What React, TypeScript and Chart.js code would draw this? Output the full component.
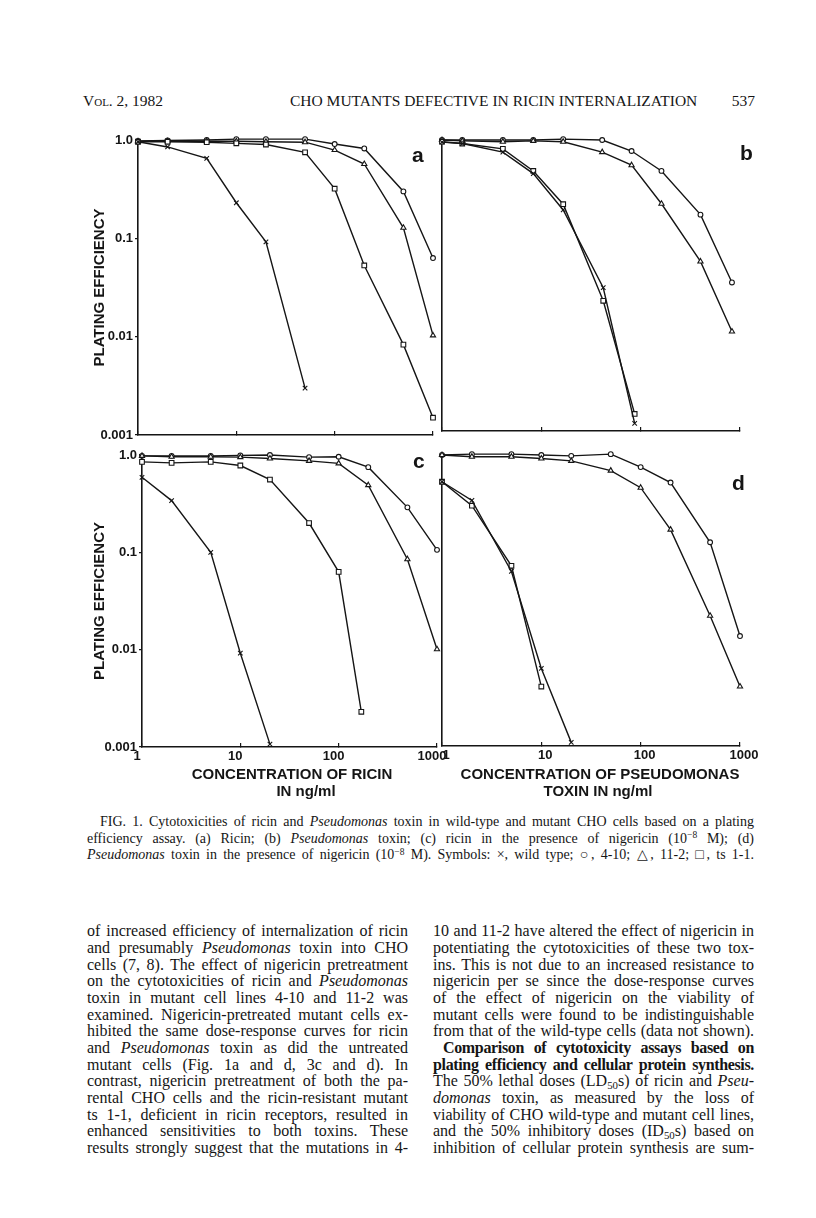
import React, { useEffect, useRef } from "react";
import { Chart, registerables } from "chart.js";
Chart.register(...registerables);

// ---------------- data ----------------
const X_TICKS = [1, 10, 100, 1000];
const X_TICK_LABELS = ["1", "10", "100", "1000"];
const Y_TICKS = [0.001, 0.01, 0.1, 1];
const Y_TICK_LABELS = ["0.001", "0.01", "0.1", "1.0"];

const DOSES = [1, 2, 5, 10, 20, 50, 100, 200, 500, 1000];

// (a) ricin
const A_WT_X = [1, 2, 5, 10, 20, 50];
const A_WT = [0.96, 0.85, 0.65, 0.23, 0.092, 0.003];
const A_410 = [0.98, 0.99, 1.0, 1.02, 1.02, 1.02, 0.91, 0.82, 0.3, 0.063];
const A_112 = [0.97, 0.97, 0.97, 0.97, 0.96, 0.95, 0.79, 0.57, 0.128, 0.0103];
const A_TS = [0.96, 0.96, 0.95, 0.925, 0.9, 0.75, 0.32, 0.053, 0.0083, 0.0015];

// (b) Pseudomonas toxin
const B_WT_X = [1, 1.6, 4.1, 8.3, 16.6, 42, 87];
const B_WT = [0.95, 0.92, 0.75, 0.45, 0.19, 0.03, 0.0012];
const B_TS = [0.96, 0.92, 0.81, 0.48, 0.218, 0.022, 0.0015];
const B_MUT_X = [1, 1.6, 4.1, 8.3, 16.6, 41, 81, 162, 400, 830];
const B_410 = [1.0, 1.0, 1.0, 1.0, 1.02, 1.0, 0.77, 0.48, 0.17, 0.034];
const B_112 = [1.0, 0.98, 0.96, 0.98, 0.96, 0.75, 0.55, 0.22, 0.056, 0.0106];

// (c) ricin + nigericin
const C_WT_X = [1, 2, 5, 10, 20];
const C_WT = [0.59, 0.34, 0.1, 0.0092, 0.00107];
const C_TS_X = [1, 2, 5, 10, 20, 50, 100, 170];
const C_TS = [0.85, 0.83, 0.85, 0.78, 0.56, 0.2, 0.063, 0.0023];
const C_410 = [0.98, 0.98, 0.98, 0.99, 1.0, 0.95, 0.96, 0.75, 0.29, 0.106];
const C_112 = [0.98, 0.96, 0.96, 0.95, 0.92, 0.87, 0.82, 0.49, 0.085, 0.0101];

// (d) Pseudomonas toxin + nigericin
const D_WT_X = [1, 2, 5, 10, 20];
const D_WT = [0.53, 0.34, 0.063, 0.0063, 0.00109];
const D_TS_X = [1, 2, 5, 10];
const D_TS = [0.53, 0.3, 0.072, 0.0041];
const D_410 = [1.0, 1.02, 1.02, 1.0, 0.98, 1.02, 0.75, 0.52, 0.126, 0.0136];
const D_112 = [1.0, 0.96, 0.96, 0.92, 0.87, 0.69, 0.46, 0.17, 0.022, 0.0041];

const Y_TITLE = "PLATING EFFICIENCY";

const HEADER_LEFT = "Vol. 2, 1982";
const HEADER_TITLE = "CHO MUTANTS DEFECTIVE IN RICIN INTERNALIZATION";
const HEADER_PAGE = "537";

const CAPTION = [
  "FIG. 1. Cytotoxicities of ricin and _Pseudomonas_ toxin in wild-type and mutant CHO cells based on a plating",
  "efficiency assay. (a) Ricin; (b) _Pseudomonas_ toxin; (c) ricin in the presence of nigericin (10^−8^ M); (d)",
  "_Pseudomonas_ toxin in the presence of nigericin (10^−8^ M). Symbols: ×, wild type; ○, 4-10; △, 11-2; □, ts 1-1.",
];

const LEFT_COL = [
  "of increased efficiency of internalization of ricin",
  "and presumably _Pseudomonas_ toxin into CHO",
  "cells (7, 8). The effect of nigericin pretreatment",
  "on the cytotoxicities of ricin and _Pseudomonas_",
  "toxin in mutant cell lines 4-10 and 11-2 was",
  "examined. Nigericin-pretreated mutant cells ex-",
  "hibited the same dose-response curves for ricin",
  "and _Pseudomonas_ toxin as did the untreated",
  "mutant cells (Fig. 1a and d, 3c and d). In",
  "contrast, nigericin pretreatment of both the pa-",
  "rental CHO cells and the ricin-resistant mutant",
  "ts 1-1, deficient in ricin receptors, resulted in",
  "enhanced sensitivities to both toxins. These",
  "results strongly suggest that the mutations in 4-",
];

const RIGHT_COL = [
  "10 and 11-2 have altered the effect of nigericin in",
  "potentiating the cytotoxicities of these two tox-",
  "ins. This is not due to an increased resistance to",
  "nigericin per se since the dose-response curves",
  "of the effect of nigericin on the viability of",
  "mutant cells were found to be indistinguishable",
  "from that of the wild-type cells (data not shown).",
  "**Comparison of cytotoxicity assays based on**",
  "**plating efficiency and cellular protein synthesis.**",
  "The 50% lethal doses (LD~50~s) of ricin and _Pseu-_",
  "_domonas_ toxin, as measured by the loss of",
  "viability of CHO wild-type and mutant cell lines,",
  "and the 50% inhibitory doses (ID~50~s) based on",
  "inhibition of cellular protein synthesis are sum-",
];

// ---------------- helpers ----------------
type Pt = { x: number; y: number };
const pts = (xs: number[], ys: number[]): Pt[] => ys.map((y, i) => ({ x: xs[i], y }));

type Series = { data: Pt[]; style: string; radius: number };
const wt = (d: Pt[]): Series => ({ data: d, style: "crossRot", radius: 3.2 });
const c410 = (d: Pt[]): Series => ({ data: d, style: "circle", radius: 2.4 });
const t112 = (d: Pt[]): Series => ({ data: d, style: "triangle", radius: 3 });
const ts11 = (d: Pt[]): Series => ({ data: d, style: "rect", radius: 3.3 });

interface PanelSpec {
  id: string;
  left: number;
  top: number;
  w: number;
  h: number;
  yWidth: number;
  xHeight: number;
  pad: { left: number; top: number; right: number; bottom: number };
  showX: boolean;
  showY: boolean;
  labelShift: number;
  series: Series[];
}

const INK = "#151515";
const SANS = "'Liberation Sans', Arial, sans-serif";
const SERIF = "'Liberation Serif', 'Times New Roman', serif";

const PANELS: PanelSpec[] = [
  {
    id: "a", left: 70, top: 122, w: 385, h: 328, yWidth: 68, xHeight: 8,
    pad: { left: 0, top: 18, right: 22, bottom: 7 }, showX: false, showY: true, labelShift: 0,
    series: [wt(pts(A_WT_X, A_WT)), ts11(pts(DOSES, A_TS)), t112(pts(DOSES, A_112)), c410(pts(DOSES, A_410))],
  },
  {
    id: "b", left: 430, top: 122, w: 330, h: 328, yWidth: 12, xHeight: 8,
    pad: { left: 0, top: 18, right: 20, bottom: 11 }, showX: false, showY: false, labelShift: 0,
    series: [wt(pts(B_WT_X, B_WT)), ts11(pts(B_WT_X, B_TS)), t112(pts(B_MUT_X, B_112)), c410(pts(B_MUT_X, B_410))],
  },
  {
    id: "c", left: 70, top: 437, w: 385, h: 335, yWidth: 72, xHeight: 22,
    pad: { left: 0, top: 18, right: 18, bottom: 3 }, showX: true, showY: true, labelShift: -5,
    series: [wt(pts(C_WT_X, C_WT)), ts11(pts(C_TS_X, C_TS)), t112(pts(DOSES, C_112)), c410(pts(DOSES, C_410))],
  },
  {
    id: "d", left: 430, top: 437, w: 330, h: 335, yWidth: 12, xHeight: 22,
    pad: { left: 0, top: 18, right: 20, bottom: 4 }, showX: true, showY: false, labelShift: 4,
    series: [wt(pts(D_WT_X, D_WT)), ts11(pts(D_TS_X, D_TS)), t112(pts(DOSES, D_112)), c410(pts(DOSES, D_410))],
  },
];

function makeConfig(spec: PanelSpec): any {
  const tickFont = { family: SANS, weight: "bold", size: 13 };
  return {
    type: "line",
    data: {
      datasets: spec.series.map((s) => ({
        data: s.data,
        borderColor: INK,
        borderWidth: 1.4,
        pointStyle: s.style,
        pointRadius: s.radius,
        pointBorderWidth: 1.1,
        pointBorderColor: INK,
        pointBackgroundColor: "#ffffff",
        fill: false,
        tension: 0,
        clip: false,
      })),
    },
    options: {
      animation: false,
      responsive: false,
      maintainAspectRatio: false,
      devicePixelRatio: 1,
      layout: { padding: spec.pad },
      plugins: { legend: { display: false }, tooltip: { enabled: false }, title: { display: false } },
      scales: {
        x: {
          type: "logarithmic",
          min: 1,
          max: 1000,
          afterBuildTicks: (s: any) => {
            s.ticks = X_TICKS.map((v) => ({ value: v }));
          },
          afterFit: (s: any) => {
            s.height = spec.xHeight;
            s.paddingLeft = 0;
            s.paddingRight = 0;
          },
          ticks: {
            display: spec.showX,
            autoSkip: false,
            maxRotation: 0,
            minRotation: 0,
            padding: 6,
            labelOffset: spec.labelShift,
            color: INK,
            font: tickFont,
            callback: (v: any) => {
              const i = X_TICKS.indexOf(Number(v));
              return i >= 0 ? X_TICK_LABELS[i] : "";
            },
          },
          grid: { drawOnChartArea: false, drawTicks: true, tickLength: -4, color: INK, lineWidth: 1.2 },
          border: { display: true, color: INK, width: 1.6 },
        },
        y: {
          type: "logarithmic",
          min: 0.001,
          max: 1,
          afterBuildTicks: (s: any) => {
            s.ticks = Y_TICKS.map((v) => ({ value: v }));
          },
          afterFit: (s: any) => {
            s.width = spec.yWidth;
            s.paddingTop = 0;
            s.paddingBottom = 0;
          },
          ticks: {
            display: spec.showY,
            autoSkip: false,
            padding: 2,
            color: INK,
            font: tickFont,
            callback: (v: any) => {
              const i = Y_TICKS.indexOf(Number(v));
              return i >= 0 ? Y_TICK_LABELS[i] : "";
            },
          },
          grid: { drawOnChartArea: false, drawTicks: spec.showY, tickLength: 3, color: INK, lineWidth: 1.2 },
          border: { display: true, color: INK, width: 1.6 },
          title: {
            display: spec.showY,
            text: Y_TITLE,
            color: INK,
            font: { family: SANS, weight: "bold", size: 15 },
            padding: { top: 21, bottom: 0 },
          },
        },
      },
    },
  };
}

function Panel({ spec }: { spec: PanelSpec }) {
  const ref = useRef<HTMLCanvasElement>(null);
  useEffect(() => {
    const chart = new Chart(ref.current as HTMLCanvasElement, makeConfig(spec));
    return () => chart.destroy();
  }, [spec]);
  return (
    <canvas
      ref={ref}
      width={spec.w}
      height={spec.h}
      style={{ position: "absolute", left: spec.left, top: spec.top, width: spec.w, height: spec.h }}
    />
  );
}

function rich(s: string): React.ReactNode[] {
  const parts = s.split(/(\*\*[^*]+\*\*|_[^_]+_|~[^~]+~|\^[^^]+\^)/g).filter((p) => p !== "");
  return parts.map((p, i) => {
    if (p.startsWith("**")) return <b key={i}>{p.slice(2, -2)}</b>;
    if (p.startsWith("_")) return <i key={i}>{p.slice(1, -1)}</i>;
    if (p.startsWith("~"))
      return (
        <span key={i} style={{ fontSize: "0.68em", position: "relative", top: "0.25em" }}>
          {p.slice(1, -1)}
        </span>
      );
    if (p.startsWith("^"))
      return (
        <span key={i} style={{ fontSize: "0.68em", position: "relative", top: "-0.45em" }}>
          {p.slice(1, -1)}
        </span>
      );
    return <React.Fragment key={i}>{p}</React.Fragment>;
  });
}

// top of a text box so that its baseline lands on `baseline`
const serifTop = (baseline: number, f: number, lh: number) => baseline - lh / 2 - 0.3375 * f;
const sansTop = (baseline: number, f: number, lh: number) => baseline - lh / 2 - 0.3465 * f;

function JLine({ text, left, width, baseline, size, lh, family }: any) {
  const isBold = text.startsWith("**");
  return (
    <div
      style={{
        position: "absolute",
        left,
        width,
        top: serifTop(baseline, size, lh),
        fontFamily: family,
        fontSize: size,
        lineHeight: `${lh}px`,
        whiteSpace: "nowrap",
        textAlign: "justify",
        textAlignLast: "justify",
        letterSpacing: isBold ? "-0.35px" : "normal",
        color: INK,
      }}
    >
      {rich(text)}
    </div>
  );
}

function Label({ text, left, baseline, size, bold, family, center, align }: any) {
  const lh = size;
  const style: any = {
    position: "absolute",
    top: family === SANS ? sansTop(baseline, size, lh) : serifTop(baseline, size, lh),
    fontFamily: family,
    fontSize: size,
    fontWeight: bold ? "bold" : "normal",
    lineHeight: `${lh}px`,
    whiteSpace: "nowrap",
    color: INK,
  };
  if (center !== undefined) {
    style.left = center - 300;
    style.width = 600;
    style.textAlign = "center";
  } else if (align === "right") {
    style.left = left - 200;
    style.width = 200;
    style.textAlign = "right";
  } else {
    style.left = left;
  }
  return <div style={style}>{text}</div>;
}

export default function App() {
  const BODY_F = 16;
  const BODY_LH = 16.67;
  return (
    <div
      style={{
        position: "absolute",
        left: 0,
        top: 0,
        width: 816,
        height: 1218,
        background: "#ffffff",
        overflow: "hidden",
      }}
    >
      {/* running header */}
      <div
        style={{
          position: "absolute",
          left: 83,
          top: serifTop(106, 15.5, 16),
          fontFamily: SERIF,
          fontSize: 15.5,
          lineHeight: "16px",
          fontVariant: "small-caps",
          color: INK,
          whiteSpace: "nowrap",
        }}
      >
        {HEADER_LEFT}
      </div>
      <Label text={HEADER_TITLE} left={290} baseline={106} size={15.5} family={SERIF} />
      <Label text={HEADER_PAGE} left={755} baseline={106} size={15.5} family={SERIF} align="right" />

      {PANELS.map((p) => (
        <Panel key={p.id} spec={p} />
      ))}

      {/* panel letters */}
      <Label text="a" left={412} baseline={162} size={21} bold family={SANS} />
      <Label text="b" left={740} baseline={160} size={21} bold family={SANS} />
      <Label text="c" left={413} baseline={468} size={21} bold family={SANS} />
      <Label text="d" left={732} baseline={490} size={21} bold family={SANS} />

      {/* x-axis titles */}
      <Label text="CONCENTRATION OF RICIN" center={292} baseline={779} size={15} bold family={SANS} />
      <Label text="IN ng/ml" center={306} baseline={796} size={15} bold family={SANS} />
      <Label text="CONCENTRATION OF PSEUDOMONAS" center={600} baseline={779} size={15} bold family={SANS} />
      <Label text="TOXIN IN ng/ml" center={598} baseline={796} size={15} bold family={SANS} />

      {/* caption */}
      {CAPTION.map((t, i) => (
        <JLine
          key={"cap" + i}
          text={t}
          left={i === 0 ? 100 : 87}
          width={i === 0 ? 654 : 667}
          baseline={827 + i * 16.5}
          size={14}
          lh={16}
          family={SERIF}
        />
      ))}

      {/* body text */}
      {LEFT_COL.map((t, i) => (
        <JLine
          key={"l" + i}
          text={t}
          left={87}
          width={321}
          baseline={937 + i * BODY_LH}
          size={BODY_F}
          lh={BODY_LH}
          family={SERIF}
        />
      ))}
      {RIGHT_COL.map((t, i) => (
        <JLine
          key={"r" + i}
          text={t}
          left={i === 7 ? 443 : 433}
          width={i === 7 ? 311 : 321}
          baseline={937 + i * BODY_LH}
          size={BODY_F}
          lh={BODY_LH}
          family={SERIF}
        />
      ))}
    </div>
  );
}
